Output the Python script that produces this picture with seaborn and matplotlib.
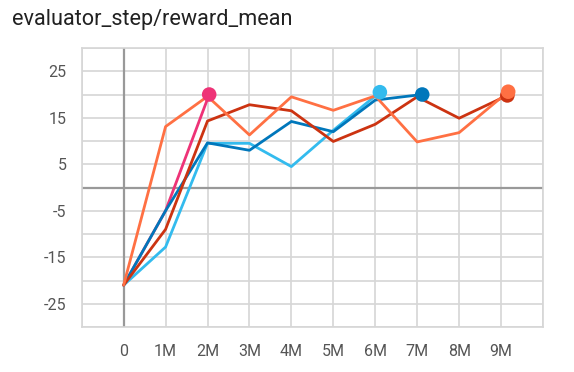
import pandas as pd
import seaborn as sns
import matplotlib.pyplot as plt

# pasos en millones y reward medio de cada corrida
runs = ['pink', 'light_blue', 'dark_blue', 'dark_red', 'orange']
steps_pink = [0, 1, 2.04]
reward_pink = [-21, -5, 20]
steps_light_blue = [0, 1, 2, 3, 4, 5, 6.11]
reward_light_blue = [-21, -12.8, 9.5, 9.5, 4.5, 12.3, 20.5]
steps_dark_blue = [0, 1, 2, 3, 4, 5, 6, 7.12]
reward_dark_blue = [-21, -5, 9.6, 8, 14.2, 12, 18.8, 20]
steps_dark_red = [0, 1, 2, 3, 4, 5, 6, 7, 8, 9.15]
reward_dark_red = [-21, -9, 14.3, 17.8, 16.5, 9.9, 13.6, 19.5, 14.9, 19.8]
steps_orange = [0, 1, 2, 3, 4, 5, 6, 7, 8, 9.17]
reward_orange = [-21, 13.1, 19.6, 11.3, 19.5, 16.6, 19.7, 9.8, 11.8, 20.6]

colores = {'pink': '#ee3377', 'light_blue': '#33bbee', 'dark_blue': '#0077bb',
           'dark_red': '#cc3311', 'orange': '#ff7043'}

steps = [steps_pink, steps_light_blue, steps_dark_blue, steps_dark_red, steps_orange]
rewards = [reward_pink, reward_light_blue, reward_dark_blue, reward_dark_red, reward_orange]
df = pd.concat([pd.DataFrame({'run': r, 'step': [s * 1e6 for s in st], 'reward': rw})
                for r, st, rw in zip(runs, steps, rewards)], ignore_index=True)
ultimos = df.groupby('run', sort=False).tail(1)

sns.set_style('white')
plt.rcParams['font.family'] = ['Roboto', 'DejaVu Sans']

fig = plt.figure(figsize=(5.74, 3.72), dpi=100)
ax = fig.add_axes([81.7 / 574, 1 - 327 / 372, (543 - 81.7) / 574, (327 - 48) / 372])

gris = '#d6d6d6'
ax.set_xlim(-1e6, 10e6)
ax.set_ylim(-30, 30)
xt = [i * 1e6 for i in range(-1, 11)]
ax.set_xticks(xt)
ax.set_xticklabels(['' if i in (-1, 10) else ('0' if i == 0 else f'{i}M') for i in range(-1, 11)])
yt = list(range(-30, 31, 5))
ax.set_yticks(yt)
ax.set_yticklabels([str(v) if v % 10 != 0 else '' for v in yt])
ax.grid(True, color=gris, linewidth=1.2)
ax.tick_params(length=6, width=1.2, color=gris, labelcolor='#555555', labelsize=11.5)
ax.tick_params(axis='x', pad=6)
ax.tick_params(axis='y', pad=5)
for s in ax.spines.values():
    s.set_color(gris)
    s.set_linewidth(1.2)
ax.axhline(0, color='#999999', linewidth=1.6, zorder=1)
ax.axvline(0, color='#999999', linewidth=1.6, zorder=1)

sns.lineplot(data=df, x='step', y='reward', hue='run', palette=colores,
             linewidth=2, legend=False, sort=False, ax=ax, zorder=3)
sns.scatterplot(data=ultimos, x='step', y='reward', hue='run', palette=colores,
                s=110, edgecolor='none', legend=False, ax=ax, zorder=4)
ax.set_xlabel('')
ax.set_ylabel('')

fig.text(12 / 574, 1 - 9 / 372, 'evaluator_step/reward_mean', fontsize=15.6,
         color='#212121', va='top', ha='left')

fig.savefig('out.png', dpi=100)
